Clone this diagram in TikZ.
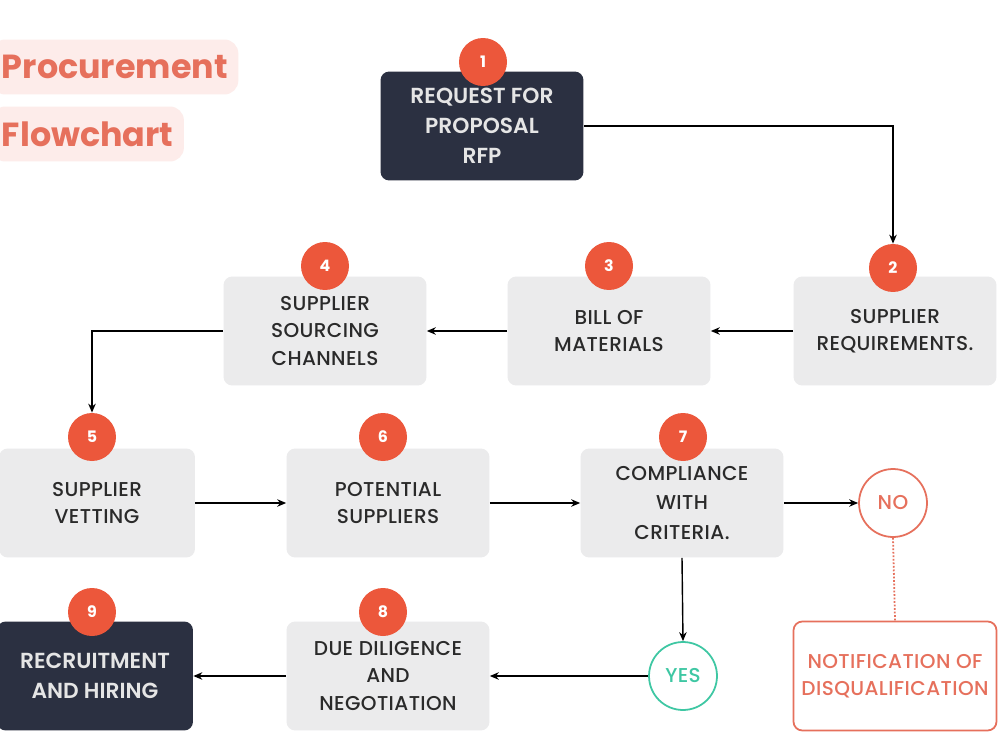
\documentclass[tikz,border=0pt]{standalone}
\usepackage{fontspec}
\setmainfont{Poppins}
\newfontfamily\medfont[LetterSpace=2]{Poppins Medium}
\newfontfamily\semifont{Poppins SemiBold}
\usepackage{tikz}
\usetikzlibrary{arrows.meta}

\definecolor{navy}{HTML}{2B3041}
\definecolor{badge}{HTML}{EC573B}
\definecolor{panel}{HTML}{EBEBEC}
\definecolor{coral}{HTML}{E6705C}
\definecolor{teal}{HTML}{3EC7A3}
\definecolor{blush}{HTML}{FDECEA}
\definecolor{ink}{HTML}{2A2A2A}

\begin{document}
\begin{tikzpicture}[
    x=0.02cm, y=-0.02cm,
    font=\medfont\fontsize{11.4}{15.5}\selectfont,
    >={Stealth[length=1.8mm,width=1.5mm]},
    flow/.style={->, line width=0.8pt, black},
    stepbox/.style={rectangle, rounded corners=5pt, minimum width=4.06cm,
      minimum height=2.18cm, align=center, text=ink, fill=panel},
    darkbox/.style={stepbox, fill=navy, text=white!90!black,
      font=\semifont\fontsize{12.4}{17}\selectfont},
    num/.style={circle, fill=badge, text=white, minimum size=0.96cm,
      inner sep=0pt, font=\bfseries\fontsize{9}{9}\selectfont},
    verdict/.style={circle, draw=#1, line width=1pt, text=#1, fill=white,
      minimum size=1.36cm, inner sep=0pt},
    pill/.style={rounded corners=8pt, fill=blush, text=coral, inner xsep=6pt,
      minimum height=1.1cm, anchor=west, font=\bfseries\fontsize{19}{19}\selectfont},
  ]
  \useasboundingbox[fill=white] (0,0) rectangle (1000,750);

  %% ---- title ------------------------------------------------------------
  \node[pill] (title1) at (-9,67) {Procurement};
  \node[pill] (title2) at (-9,134) {Flowchart};

  %% ---- the boxes --------------------------------------------------------
  \node[darkbox] (s1) at (482,126) {REQUEST FOR\\ PROPOSAL\\ RFP};
  \node[stepbox] (s2) at (895,331) {SUPPLIER\\ REQUIREMENTS.};
  \node[stepbox] (s3) at (609,331) {BILL OF\\ MATERIALS};
  \node[stepbox] (s4) at (325,331) {SUPPLIER\\ SOURCING\\ CHANNELS};
  \node[stepbox, minimum width=3.92cm] (s5) at (97,503) {SUPPLIER\\ VETTING};
  \node[stepbox] (s6) at (388,503) {POTENTIAL\\ SUPPLIERS};
  \node[stepbox, font=\medfont\fontsize{11.4}{17}\selectfont]
    (s7) at (682,503) {COMPLIANCE\\ WITH\\ CRITERIA.};
  \node[stepbox] (s8) at (388,676) {DUE DILIGENCE\\ AND\\ NEGOTIATION};
  \node[darkbox, minimum width=3.92cm] (s9) at (95,676) {RECRUITMENT\\ AND HIRING};

  %% ---- decision outcomes ------------------------------------------------
  \node[verdict=coral] (no) at (893,503) {NO};
  \node[verdict=teal] (yes) at (683,676) {YES};
  \node[stepbox, fill=white, draw=coral, line width=1pt, text=coral]
    (notice) at (895,676) {NOTIFICATION OF\\ DISQUALIFICATION};

  %% ---- numbered badges --------------------------------------------------
  \node[num] (b1) at (483,62) {1};
  \node[num] (b2) at (893,268) {2};
  \node[num] (b3) at (609,266) {3};
  \node[num] (b4) at (325,266) {4};
  \node[num] (b5) at (92,437) {5};
  \node[num] (b6) at (383,437) {6};
  \node[num] (b7) at (683,437) {7};
  \node[num] (b8) at (383,612) {8};
  \node[num] (b9) at (92,612) {9};

  %% ---- connectors -------------------------------------------------------
  \draw[flow] (s1.east) -| (b2.north);
  \draw[flow] (s2.west) -- (s3.east);
  \draw[flow] (s3.west) -- (s4.east);
  \draw[flow] (s4.west) -| (b5.north);
  \draw[flow] (s5.east) -- (s6.west);
  \draw[flow] (s6.east) -- (s7.west);
  \draw[flow] (s7.east) -- (no.west);
  \draw[flow] (s7.south) -- (yes.north);
  \draw[flow] (yes.west) -- (s8.east);
  \draw[flow] (s8.west) -- (s9.east);
  \draw[coral, line width=1pt, densely dotted] (no.south) -- (notice.north);
\end{tikzpicture}
\end{document}
